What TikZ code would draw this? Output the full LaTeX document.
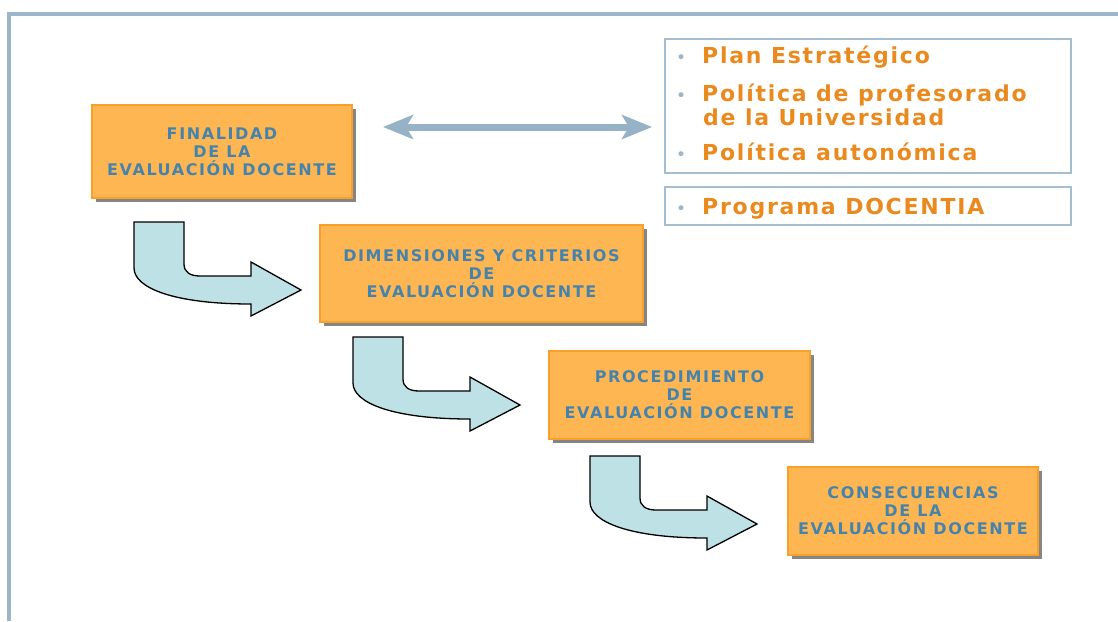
\documentclass[tikz,border=0pt]{standalone}
\usepackage{fontspec}
\setmainfont{DejaVu Sans}
\newfontfamily\boxfont{DejaVu Sans}[LetterSpace=10]
\newfontfamily\itemfont{DejaVu Sans}[LetterSpace=8]
\usetikzlibrary{arrows.meta,shadows}
\definecolor{framec}{HTML}{9BB5C9}
\definecolor{ofill}{HTML}{FDB652}
\definecolor{oborder}{HTML}{F7A02A}
\definecolor{tblue}{HTML}{4683AC}
\definecolor{shadowc}{HTML}{858585}
\definecolor{afill}{HTML}{BDE1E4}
\definecolor{darrowc}{HTML}{95B2C6}
\definecolor{otext}{HTML}{EA8A1E}
\definecolor{lborder}{HTML}{A5BDD0}
\tikzset{
  obox/.style={rectangle, draw=oborder, line width=1.5pt, fill=ofill, text=tblue,
    font=\boxfont\bfseries\fontsize{16}{18}\selectfont, align=center, inner sep=0pt,
    drop shadow={shadow xshift=4pt, shadow yshift=-4pt, fill=shadowc, opacity=1}},
  lbox/.style={rectangle, draw=lborder, line width=1.5pt, fill=white, inner sep=0pt},
  itemtext/.style={anchor=base west, inner sep=0pt, text=otext,
    font=\itemfont\bfseries\fontsize{22}{24}\selectfont},
  bullettext/.style={anchor=base west, inner sep=0pt, text=framec,
    font=\fontsize{17}{17}\selectfont},
  darrow/.style={draw=darrowc, line width=7pt,
    arrows={Stealth[length=30pt,width=24pt,inset=7pt]-Stealth[length=30pt,width=24pt,inset=7pt]}},
  curvedarrow/.pic={
    \path[draw=black, line width=1.3pt, fill=afill, line join=miter]
      (0,0) -- (50,0) -- (50,42) .. controls (50,50) and (56,54) .. (66,54)
      -- (117,54) -- (117,40) -- (167,68) -- (117,94) -- (117,82)
      .. controls (40,82) and (0,66) .. (0,46) -- cycle;
  }
}
\begin{document}
\begin{tikzpicture}[x=1pt,y=-1pt]
\useasboundingbox[fill=white] (0,0) rectangle (1118,621);
% frame
\draw[framec, line width=4pt, line join=miter] (9,621) -- (9,14) -- (1118,14);

% orange boxes
\node[obox, minimum width=260pt, minimum height=93pt] (b1) at (222,151.5)
  {FINALIDAD\\DE LA\\EVALUACIÓN DOCENTE};
\node[obox, minimum width=323pt, minimum height=97pt] (b2) at (481.5,273.5)
  {DIMENSIONES Y CRITERIOS\\DE\\EVALUACIÓN DOCENTE};
\node[obox, minimum width=261pt, minimum height=88pt] (b3) at (679.5,395)
  {PROCEDIMIENTO\\DE\\EVALUACIÓN DOCENTE};
\node[obox, minimum width=250pt, minimum height=88pt] (b4) at (913,511)
  {CONSECUENCIAS\\DE LA\\EVALUACIÓN DOCENTE};

% curved arrows
\pic at (134,222) {curvedarrow};
\pic at (353,337) {curvedarrow};
\pic at (590,456) {curvedarrow};

% right boxes
\node[lbox, minimum width=406pt, minimum height=134pt] (ra) at (868,106) {};
\node[lbox, minimum width=406pt, minimum height=38pt] (rb) at (868,206) {};

\node[bullettext] (bu1) at (676,63) {•};
\node[itemtext] (i1) at (702,63) {Plan Estratégico};
\node[bullettext] (bu2) at (676,101) {•};
\node[itemtext] (i2) at (702,101) {Política de profesorado};
\node[itemtext] (i2b) at (703,125) {de la Universidad};
\node[bullettext] (bu3) at (676,160) {•};
\node[itemtext] (i3) at (702,160) {Política autonómica};
\node[bullettext] (bu4) at (676,214) {•};
\node[itemtext] (i4) at (702,214) {Programa DOCENTIA};

% double arrow
\coordinate (la) at (383,127);
\coordinate (lb) at (652,127);
\draw[darrow] (la) -- (lb);
\end{tikzpicture}
\end{document}
